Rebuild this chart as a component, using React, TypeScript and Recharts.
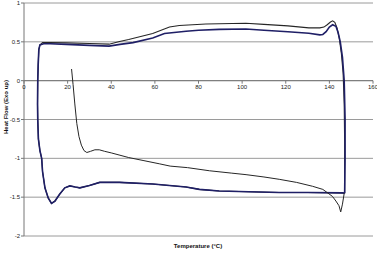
import React from 'react';
import { LineChart, Line, XAxis, YAxis, CartesianGrid, ReferenceLine, ReferenceDot } from 'recharts';

// First heating run (thin line)
const firstHeatT = [21.8, 22.5, 23.3, 24.2, 25.2, 26.3, 27.5, 28.8, 30.5, 32.5, 34.5, 37, 40, 44, 48, 55, 62, 67, 75, 85, 95, 101.8, 110, 117, 125, 132.3, 137, 141.4, 143, 144.4, 145.2, 146, 146.8];
const firstHeatHF = [0.15, -0.05, -0.3, -0.55, -0.72, -0.83, -0.9, -0.925, -0.91, -0.89, -0.89, -0.91, -0.93, -0.96, -0.99, -1.03, -1.07, -1.1, -1.12, -1.16, -1.19, -1.21, -1.24, -1.27, -1.31, -1.36, -1.4, -1.49, -1.55, -1.61, -1.69, -1.59, -1.45];

// Shared lower part of the loop: left edge going down, then second heating back to 147 °C
const loopDownT = [7.3, 6.8, 6.5, 6.3, 6.2, 6.3, 6.6, 7.3, 8.1, 8.5, 9.6, 11.1, 12.6, 14.2, 16.4, 18.7, 21, 23.5, 25.6, 30, 34.7, 43.8, 59, 74.3, 80.4, 89.5, 103, 117, 130, 146, 147];
const loopDownHF = [0.46, 0.4, 0.2, 0, -0.3, -0.5, -0.75, -0.9, -1.0, -1.17, -1.38, -1.51, -1.58, -1.55, -1.46, -1.38, -1.355, -1.37, -1.38, -1.35, -1.31, -1.31, -1.33, -1.37, -1.4, -1.42, -1.43, -1.44, -1.44, -1.445, -1.45];

// Cooling, outer (upper) curve
const coolOuterT = [147, 147, 146.8, 146.3, 145.5, 144.5, 143.5, 142.5, 141.5, 140.5, 139, 137.5, 135.6, 130.6, 121, 110, 101.7, 83.4, 71.2, 66.7, 59, 48, 43.8, 39, 30, 19.5, 12, 8.5];
const coolOuterHF = [-1.45, -0.8, -0.3, 0.1, 0.35, 0.55, 0.68, 0.75, 0.77, 0.755, 0.72, 0.69, 0.68, 0.68, 0.705, 0.725, 0.74, 0.73, 0.71, 0.69, 0.607, 0.53, 0.505, 0.47, 0.478, 0.487, 0.49, 0.49];

// Cooling, inner (lower) curve
const coolInnerT = [147, 147.2, 147.2, 146.8, 146, 145, 144, 143, 141.5, 140, 138.5, 137, 135.6, 130.6, 121, 110, 101.7, 89.5, 80, 74.3, 64.4, 59, 50, 44, 39, 30, 19.5, 12, 9];
const coolInnerHF = [-1.45, -1.0, -0.5, 0, 0.3, 0.5, 0.62, 0.7, 0.72, 0.69, 0.63, 0.595, 0.59, 0.61, 0.63, 0.65, 0.665, 0.66, 0.65, 0.637, 0.607, 0.55, 0.49, 0.467, 0.445, 0.455, 0.467, 0.475, 0.475];

const xTicks = [0, 20, 40, 60, 80, 100, 120, 140, 160];
const yTicks = [-2, -1.5, -1, -0.5, 0, 0.5, 1];

const zip = (t: number[], h: number[]) => t.map((v, i) => ({ t: v, hf: h[i] }));

const firstHeat = zip(firstHeatT, firstHeatHF);
const outerLoop = [...zip(coolOuterT, coolOuterHF), ...zip(loopDownT, loopDownHF)];
const innerLoop = [...zip(coolInnerT, coolInnerHF), ...zip(loopDownT, loopDownHF)];

const FONT = '"Liberation Sans", Arial, sans-serif';

export default function App() {
  return (
    <div style={{ position: 'absolute', left: 0, top: 0, width: 377, height: 253, fontFamily: FONT, background: '#fff' }}>
      <LineChart width={377} height={253} margin={{ top: 3, right: 4, left: 0, bottom: 17 }}>
        <CartesianGrid vertical={false} stroke="#9a9a9a" strokeWidth={1} />
        <XAxis type="number" dataKey="t" domain={[0, 160]} ticks={xTicks} hide />
        <YAxis
          type="number"
          domain={[-2, 1]}
          ticks={yTicks}
          interval={0}
          width={24}
          tickSize={3}
          tickMargin={1}
          axisLine={{ stroke: '#777' }}
          tickLine={{ stroke: '#777' }}
          tick={{ fontSize: 6, fill: '#222', fontFamily: FONT }}
        />
        <ReferenceLine y={0} stroke="#777" />
        {xTicks.map((v) => (
          <ReferenceDot
            key={v}
            x={v}
            y={0}
            r={0}
            ifOverflow="visible"
            shape={(p: any) => <line x1={p.cx} y1={p.cy} x2={p.cx} y2={p.cy + 3} stroke="#777" />}
            label={{ value: String(v), position: 'bottom', offset: 4, fontSize: 6, fill: '#222', fontFamily: FONT }}
          />
        ))}
        <Line data={outerLoop} dataKey="hf" type="linear" dot={false} stroke="#262626" strokeWidth={1.1} isAnimationActive={false} />
        <Line data={innerLoop} dataKey="hf" type="linear" dot={false} stroke="#1f1f66" strokeWidth={1.6} isAnimationActive={false} />
        <Line data={firstHeat} dataKey="hf" type="linear" dot={false} stroke="#262626" strokeWidth={1} isAnimationActive={false} />
      </LineChart>
      <div style={{ position: 'absolute', left: 198, top: 246, transform: 'translate(-50%, -50%)', fontSize: 6, fontWeight: 'bold', whiteSpace: 'nowrap', color: '#111' }}>
        Temperature (°C)
      </div>
      <div style={{ position: 'absolute', left: 6, top: 107, transform: 'translate(-50%, -50%) rotate(-90deg)', fontSize: 6, fontWeight: 'bold', whiteSpace: 'nowrap', color: '#111' }}>
        Heat Flow (Exo up)
      </div>
    </div>
  );
}
